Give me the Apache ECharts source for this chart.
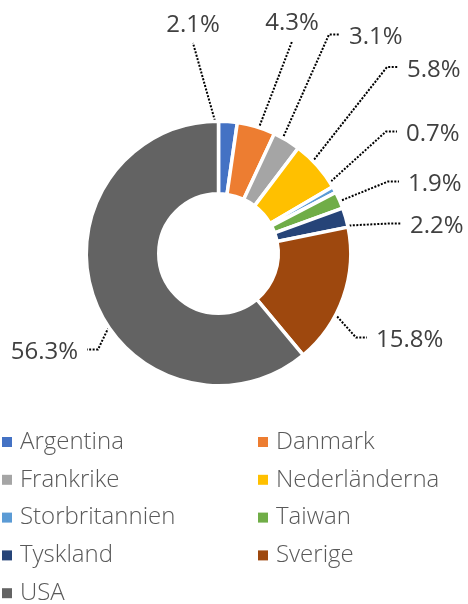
<!DOCTYPE html>
<html>
<head>
<meta charset="utf-8">
<script src="https://cdn.jsdelivr.net/npm/echarts@6/dist/echarts.min.js"></script>
<style>
  html, body { margin: 0; padding: 0; background: #fff; }
  #chart { width: 468px; height: 604px; }
</style>
</head>
<body>
<div id="chart"></div>
<script>
// countries and their shares (%), as printed on the labels
var countries = ['Argentina', 'Danmark', 'Frankrike', 'Nederländerna', 'Storbritannien',
                 'Taiwan', 'Tyskland', 'Sverige', 'USA'];
var shares = [2.1, 4.3, 3.1, 5.8, 0.7, 1.9, 2.2, 15.8, 56.3];
var colors = ['#4472C4', '#ED7D31', '#A5A5A5', '#FFC000', '#5B9BD5',
              '#70AD47', '#264478', '#9E480E', '#636363'];

// legend columns
var legendLeft = ['Argentina', 'Frankrike', 'Storbritannien', 'Tyskland', 'USA'];
var legendRight = ['Danmark', 'Nederländerna', 'Taiwan', 'Sverige'];

// where each label sits, and which side its leader line leaves from
var labelPos = [[193, 25], [292, 23.5], [349, 37.5], [407, 70], [406, 134.5],
                [408, 184.5], [410, 226.5], [376, 340.5], [78, 352.5]];
var labelSide = ['top', 'top', 'right', 'right', 'right', 'right', 'right', 'right', 'left'];

var center = [218.5, 253.5];
var innerR = 61.5, outerR = 130.5, borderW = 3.5;

var total = shares.reduce(function (a, b) { return a + b }, 0);
var cum = [];
shares.reduce(function (acc, v, i) { cum[i] = acc; return acc + v }, 0);

var chart = echarts.init(document.getElementById('chart'));

var legendBase = {
    orient: 'vertical',
    top: 430,
    height: 200,
    padding: 0,
    itemGap: 13.8,
    itemWidth: 10,
    itemHeight: 10,
    icon: 'rect',
    selectedMode: false,
    itemStyle: { borderWidth: 0 },
    textStyle: {
        fontFamily: 'Open Sans',
        fontWeight: 300,
        fontSize: 24,
        color: '#595959',
        padding: [0, 0, 0, 3]
    }
};

var option = {
    animation: false,
    color: colors,
    legend: [
        Object.assign({}, legendBase, { left: 2, data: legendLeft }),
        Object.assign({}, legendBase, { left: 258, data: legendRight })
    ],
    series: [{
        type: 'pie',
        center: center,
        radius: [innerR - borderW / 2, outerR + borderW / 2],
        startAngle: 90,
        clockwise: true,
        avoidLabelOverlap: false,
        itemStyle: { borderColor: '#fff', borderWidth: borderW },
        emphasis: { disabled: true },
        label: {
            show: true,
            position: 'outside',
            formatter: '{c}%',
            fontFamily: 'Open Sans',
            fontSize: 24,
            color: '#404040'
        },
        labelLine: {
            show: true,
            lineStyle: { color: '#000', width: 2, type: [2, 1.5] }
        },
        labelLayout: function (p) {
            var i = p.dataIndex;
            var pos = labelPos[i], side = labelSide[i];
            var mid = (cum[i] + shares[i] / 2) / total * 2 * Math.PI;
            var rm = (innerR + outerR) / 2;
            var s = [center[0] + rm * Math.sin(mid), center[1] - rm * Math.cos(mid)];
            if (side === 'top') {
                return {
                    x: pos[0], y: pos[1], align: 'center', verticalAlign: 'middle',
                    labelLinePoints: [s, [pos[0], pos[1] + 18]]
                };
            }
            var dir = side === 'right' ? -1 : 1;
            var ly = pos[1] - 3;
            return {
                x: pos[0], y: pos[1],
                align: side === 'right' ? 'left' : 'right',
                verticalAlign: 'middle',
                labelLinePoints: [s, [pos[0] + dir * 20, ly], [pos[0] + dir * 9, ly]]
            };
        },
        data: countries.map(function (c, i) {
            return { name: c, value: shares[i] };
        })
    }]
};

chart.setOption(option);
</script>
</body>
</html>
